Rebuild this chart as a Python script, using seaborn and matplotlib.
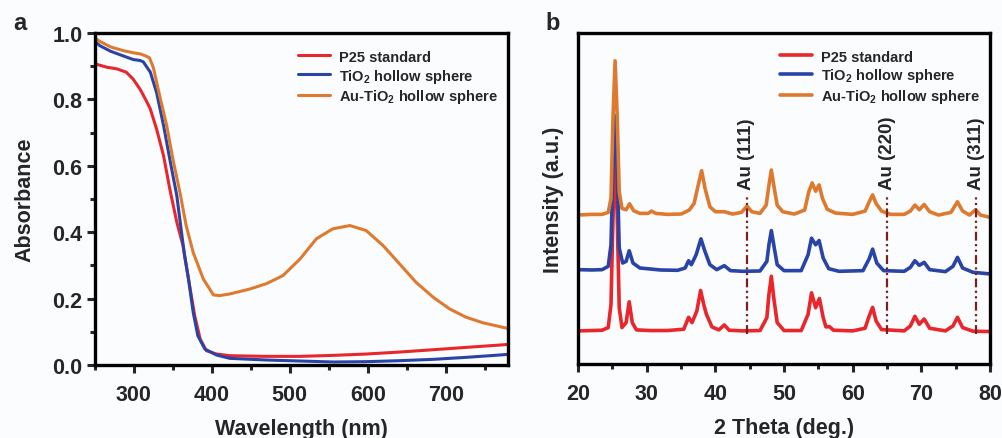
import matplotlib
matplotlib.use("Agg")
import matplotlib.pyplot as plt
from matplotlib.ticker import MultipleLocator, NullLocator
import numpy as np
import pandas as pd
import seaborn as sns

#%% datos - espectros UV-vis (panel a)
wl_p25 = [250, 265, 278, 290, 299, 308, 316, 321, 329, 338, 346, 355, 363, 370, 378, 385,
          393, 406, 423, 470, 513, 556, 598, 641, 684, 726, 769, 780]
abs_p25 = [0.907, 0.897, 0.892, 0.882, 0.861, 0.830, 0.795, 0.771, 0.711, 0.630, 0.530, 0.430,
           0.359, 0.259, 0.148, 0.078, 0.043, 0.033, 0.028, 0.026, 0.026, 0.029, 0.033, 0.039,
           0.046, 0.053, 0.060, 0.062]

wl_tio2 = [250, 256, 270, 285, 299, 308, 312, 321, 329, 338, 346, 355, 361, 365, 370, 376,
           382, 391, 406, 423, 470, 513, 556, 598, 641, 684, 726, 769, 780]
abs_tio2 = [0.975, 0.962, 0.945, 0.932, 0.920, 0.917, 0.913, 0.882, 0.821, 0.721, 0.620, 0.510,
            0.400, 0.329, 0.259, 0.159, 0.088, 0.048, 0.030, 0.020, 0.015, 0.012, 0.009, 0.010,
            0.013, 0.017, 0.023, 0.030, 0.032]

wl_au = [250, 256, 270, 286, 300, 308, 316, 320, 325, 333, 342, 350, 359, 367, 376, 389,
         402, 410, 423, 449, 470, 491, 513, 534, 555, 577, 598, 620, 641, 662, 684, 705,
         726, 748, 778, 780]
abs_au = [0.985, 0.975, 0.958, 0.947, 0.940, 0.937, 0.930, 0.925, 0.895, 0.811, 0.721, 0.620,
          0.520, 0.420, 0.339, 0.259, 0.211, 0.209, 0.214, 0.229, 0.245, 0.269, 0.319, 0.380,
          0.410, 0.420, 0.405, 0.359, 0.304, 0.249, 0.204, 0.169, 0.144, 0.127, 0.111, 0.110]

#%% datos - XRD (panel b), intensidad normalizada con desplazamiento
tt_p25 = [20.0, 22.0, 23.5, 24.4, 24.8, 25.1, 25.4, 25.7, 26.0, 26.4, 27.0, 27.45, 27.9, 28.5,
          30.5, 33.0, 35.4, 36.1, 36.6, 37.3, 37.85, 38.3, 38.7, 39.5, 40.5, 41.3, 42.0, 44.0,
          46.5, 47.5, 47.8, 48.15, 48.5, 49.0, 50.0, 52.5, 53.5, 54.0, 54.6, 55.15, 55.7, 56.1,
          56.6, 57.2, 60.0, 61.8, 62.4, 62.9, 63.4, 64.2, 67.5, 68.4, 69.05, 69.7, 70.4, 71.2,
          73.5, 74.6, 75.25, 76.0, 77.5, 80.0]
int_p25 = [0.100, 0.101, 0.102, 0.110, 0.180, 0.450, 0.660, 0.450, 0.170, 0.110, 0.125, 0.188,
           0.125, 0.103, 0.101, 0.101, 0.105, 0.141, 0.125, 0.160, 0.222, 0.180, 0.150, 0.112,
           0.103, 0.118, 0.102, 0.100, 0.101, 0.140, 0.210, 0.265, 0.200, 0.125, 0.101, 0.101,
           0.150, 0.215, 0.170, 0.198, 0.140, 0.112, 0.113, 0.102, 0.100, 0.108, 0.145, 0.171,
           0.130, 0.104, 0.100, 0.115, 0.144, 0.120, 0.136, 0.108, 0.100, 0.115, 0.141, 0.110,
           0.099, 0.098]

tt_tio2 = [20.0, 22.0, 23.5, 24.4, 24.8, 25.1, 25.4, 25.7, 26.0, 26.5, 27.0, 27.45, 28.0, 29.0,
           30.5, 32.0, 34.5, 35.6, 36.1, 36.5, 37.2, 37.9, 38.4, 39.2, 40.2, 41.3, 42.2, 44.0,
           46.5, 47.5, 47.8, 48.15, 48.5, 49.0, 50.0, 52.5, 53.5, 54.0, 54.6, 55.1, 55.7, 56.5,
           58.0, 61.5, 62.4, 62.9, 63.5, 64.5, 67.5, 68.4, 69.05, 69.7, 70.4, 71.2, 73.5, 74.6,
           75.25, 76.0, 77.5, 80.0]
int_tio2 = [0.285, 0.284, 0.285, 0.295, 0.360, 0.600, 0.750, 0.600, 0.350, 0.305, 0.310, 0.342,
            0.305, 0.290, 0.287, 0.284, 0.283, 0.290, 0.312, 0.300, 0.330, 0.378, 0.345, 0.300,
            0.285, 0.297, 0.282, 0.280, 0.281, 0.310, 0.360, 0.403, 0.360, 0.300, 0.282, 0.282,
            0.330, 0.380, 0.360, 0.373, 0.320, 0.288, 0.280, 0.282, 0.318, 0.347, 0.305, 0.282,
            0.280, 0.292, 0.312, 0.298, 0.307, 0.285, 0.279, 0.295, 0.322, 0.290, 0.277, 0.272]

tt_au = [20.0, 22.0, 23.5, 24.4, 24.8, 25.1, 25.4, 25.7, 26.0, 26.4, 27.0, 27.5, 28.1, 29.0,
         30.2, 30.7, 31.3, 33.0, 35.0, 36.2, 36.9, 37.5, 38.0, 38.5, 39.2, 40.0, 41.3, 42.5,
         43.8, 44.6, 45.3, 46.5, 47.4, 47.8, 48.15, 48.5, 49.0, 49.8, 51.5, 53.0, 53.6, 54.1,
         54.6, 55.1, 55.6, 56.3, 57.5, 60.0, 61.8, 62.4, 62.9, 63.4, 64.2, 65.5, 67.5, 68.4,
         69.05, 69.7, 70.4, 71.2, 72.5, 74.3, 75.25, 76.0, 77.0, 77.9, 78.6, 80.0]
int_au = [0.450, 0.452, 0.452, 0.458, 0.500, 0.750, 0.916, 0.750, 0.520, 0.470, 0.466, 0.484,
          0.463, 0.455, 0.455, 0.462, 0.455, 0.452, 0.453, 0.465, 0.485, 0.540, 0.584, 0.530,
          0.475, 0.460, 0.460, 0.453, 0.458, 0.477, 0.460, 0.455, 0.480, 0.540, 0.586, 0.540,
          0.480, 0.460, 0.453, 0.465, 0.520, 0.547, 0.522, 0.541, 0.500, 0.467, 0.456, 0.452,
          0.462, 0.490, 0.511, 0.485, 0.462, 0.452, 0.452, 0.462, 0.480, 0.466, 0.482, 0.460,
          0.450, 0.458, 0.490, 0.462, 0.450, 0.466, 0.450, 0.443]

# picos de Au
au_pos = [44.6, 65.0, 78.0]
au_lab = ["Au (111)", "Au (220)", "Au (311)"]

labels = ["P25 standard", r"TiO$_\mathbf{2}$ hollow sphere", r"Au-TiO$_\mathbf{2}$ hollow sphere"]
colores = ["#e8262b", "#2a43a6", "#de7a2f"]

#%% estilo
sns.set_theme(style="white")
plt.rcParams["font.family"] = ["Liberation Sans", "DejaVu Sans"]
plt.rcParams["font.weight"] = "bold"
plt.rcParams["axes.labelweight"] = "bold"
plt.rcParams["mathtext.fontset"] = "custom"
plt.rcParams["mathtext.rm"] = "Liberation Sans:bold"
plt.rcParams["mathtext.bf"] = "Liberation Sans:bold"
plt.rcParams["mathtext.default"] = "bf"

fondo = "#fbfcfe"
fig = plt.figure(figsize=(10.03, 4.39), dpi=100, facecolor=fondo)
axa = fig.add_axes([0.0947, 0.1663, 0.4118, 0.7563])
axb = fig.add_axes([0.5763, 0.1686, 0.4108, 0.7540])

#%% panel a
for w, a, lab, c in [(wl_p25, abs_p25, labels[0], colores[0]),
                     (wl_tio2, abs_tio2, labels[1], colores[1]),
                     (wl_au, abs_au, labels[2], colores[2])]:
    sns.lineplot(x=w, y=a, ax=axa, color=c, lw=2.2, label=lab, sort=False, estimator=None)

axa.set_xlim(250, 780)
axa.set_ylim(0, 1.0)
axa.xaxis.set_major_locator(MultipleLocator(100))
axa.xaxis.set_minor_locator(MultipleLocator(50))
axa.yaxis.set_major_locator(MultipleLocator(0.2))
axa.yaxis.set_minor_locator(MultipleLocator(0.1))
axa.set_xticks([300, 400, 500, 600, 700])
axa.set_xlabel("Wavelength (nm)", fontsize=15.5, labelpad=9)
axa.set_ylabel("Absorbance", fontsize=15.5, labelpad=12)
axa.set_yticklabels(["%.1f" % v for v in axa.get_yticks()])

#%% panel b
for t, i, lab, c in [(tt_p25, int_p25, labels[0], colores[0]),
                     (tt_tio2, int_tio2, labels[1], colores[1]),
                     (tt_au, int_au, labels[2], colores[2])]:
    sns.lineplot(x=t, y=i, ax=axb, color=c, lw=2.6, label=lab, sort=False, estimator=None)

for p, l in zip(au_pos, au_lab):
    axb.plot([p, p], [0.09, 0.51], color="#7a1f1f", lw=1.6, ls=(0, (4, 1.5, 1, 1.5, 1, 1.5)))
    axb.text(p, 0.53, l, rotation=90, ha="center", va="bottom", fontsize=13.5, fontweight="bold")

axb.set_xlim(20, 80)
axb.set_ylim(0, 1.0)
axb.xaxis.set_major_locator(MultipleLocator(10))
axb.xaxis.set_minor_locator(MultipleLocator(5))
axb.yaxis.set_major_locator(NullLocator())
axb.set_xlabel("2 Theta (deg.)", fontsize=15.5, labelpad=9)
axb.set_ylabel("Intensity (a.u.)", fontsize=15.5, labelpad=10)

#%% ejes comunes
for ax in [axa, axb]:
    ax.set_facecolor(fondo)
    for s in ax.spines.values():
        s.set_linewidth(2.4)
        s.set_color("black")
    ax.tick_params(which="major", direction="out", length=6, width=2.2, labelsize=15.5,
                   bottom=True, left=(ax is axa), top=False, right=False)
    ax.tick_params(which="minor", direction="out", length=3.5, width=2.2,
                   bottom=True, left=(ax is axa), top=False, right=False)
    ax.tick_params(axis="x", which="major", pad=8)
    ax.tick_params(axis="y", which="major", pad=3)
    for lbl in ax.get_xticklabels() + ax.get_yticklabels():
        lbl.set_fontweight("bold")
    ax.legend(loc="upper right", bbox_to_anchor=(0.99, 0.9675), fontsize=10.5, frameon=False,
              handlelength=2.2, handletextpad=0.6, labelspacing=0.2, borderaxespad=0)

fig.text(13 / 1003, 1 - 30 / 439, "a", fontsize=17, fontweight="bold", va="baseline", ha="left")
fig.text(545 / 1003, 1 - 30 / 439, "b", fontsize=17, fontweight="bold", va="baseline", ha="left")

fig.savefig("out.png", dpi=100, facecolor=fondo)
